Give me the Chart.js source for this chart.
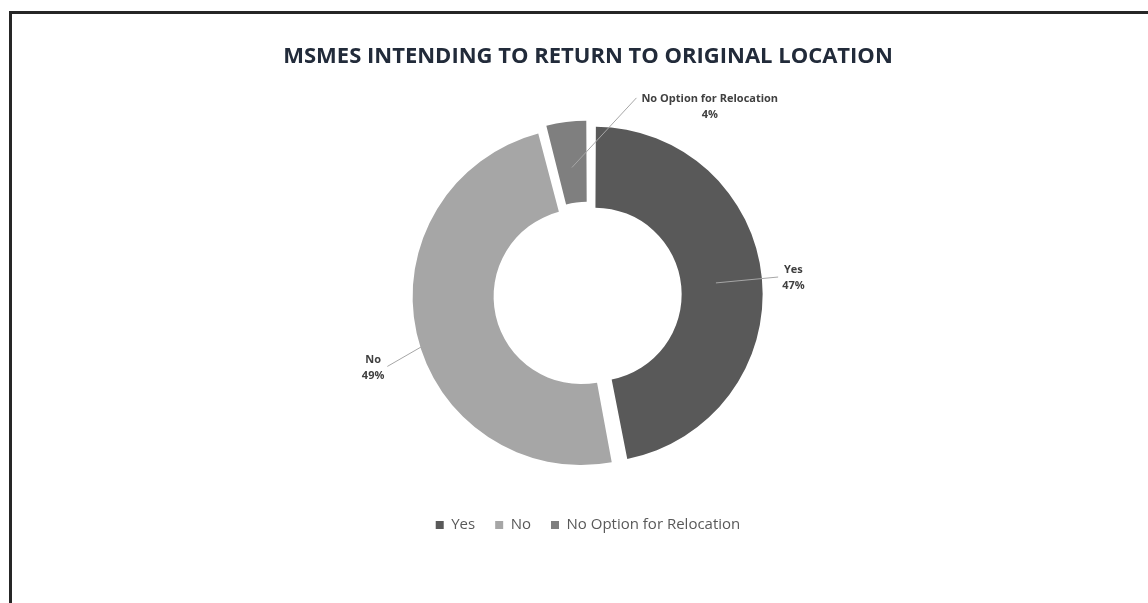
<!DOCTYPE html>
<html lang="en">
<head>
  <meta charset="UTF-8">
  <title>MSMEs Intending to Return to Original Location</title>
  <script src="https://cdn.jsdelivr.net/npm/chart.js"></script>
  <style>
    body {
      margin: 0;
      background: #fff;
      overflow: hidden;
    }
    .wrap {
      position: relative;
      width: 1148px;
      height: 603px;
    }
    .frame {
      position: absolute;
      left: 9px;
      top: 11px;
      width: 1160px;
      height: 620px;
      border: 3px solid #262626;
      box-sizing: border-box;
    }
    canvas {
      position: absolute;
      left: 0;
      top: 0;
    }
  </style>
</head>
<body>
  <div class="wrap">
    <div class="frame"></div>
    <canvas id="chart" width="1148" height="603"></canvas>
  </div>

  <script>
    // Chart data
    const categories = ['Yes', 'No', 'No Option for Relocation'];
    const shares = [47, 49, 4];
    const sliceColors = ['#595959', '#a6a6a6', '#7f7f7f'];

    // Callout leader lines: angle shift (deg), distance past the rim, label side, gap, vertical nudge
    const calloutShift = [0, -7, 21];
    const calloutReach = [29, 51, 41];
    const calloutSide = ['right', 'left', 'right'];
    const calloutGap = [4, 3, 5];
    const calloutNudge = [1, 1, 9];

    const SLICE_OFFSET = 28;

    // Draws the data labels with leader lines, like the Excel callouts
    const calloutPlugin = {
      id: 'callouts',
      afterDatasetsDraw(chart) {
        const ctx = chart.ctx;
        const meta = chart.getDatasetMeta(0);
        ctx.save();
        meta.data.forEach((arc, i) => {
          const p = arc.getProps(['x', 'y', 'startAngle', 'endAngle', 'innerRadius', 'outerRadius']);
          const mid = (p.startAngle + p.endAngle) / 2;
          const push = SLICE_OFFSET / 4;
          const rMid = (p.innerRadius + p.outerRadius) / 2 + push;
          const x0 = p.x + Math.cos(mid) * rMid;
          const y0 = p.y + Math.sin(mid) * rMid;
          const a1 = mid + calloutShift[i] * Math.PI / 180;
          const r1 = p.outerRadius + calloutReach[i];
          const x1 = p.x + Math.cos(a1) * r1;
          const y1 = p.y + Math.sin(a1) * r1;

          ctx.beginPath();
          ctx.moveTo(x0, y0);
          ctx.lineTo(x1, y1);
          ctx.strokeStyle = '#a6a6a6';
          ctx.lineWidth = 1;
          ctx.stroke();

          const lines = [categories[i], shares[i] + '%'];
          ctx.font = 'bold 11px "Open Sans"';
          ctx.fillStyle = '#404040';
          ctx.textAlign = 'center';
          ctx.textBaseline = 'middle';
          const w = Math.max(...lines.map(t => ctx.measureText(t).width));
          const cx = calloutSide[i] === 'right' ? x1 + calloutGap[i] + w / 2 : x1 - calloutGap[i] - w / 2;
          const cy = y1 + calloutNudge[i];
          ctx.fillText(lines[0], cx, cy - 8);
          ctx.fillText(lines[1], cx, cy + 8);
        });
        ctx.restore();
      }
    };

    const ctx = document.getElementById('chart').getContext('2d');
    new Chart(ctx, {
      type: 'doughnut',
      data: {
        labels: categories,
        datasets: [{
          data: shares,
          backgroundColor: sliceColors,
          borderWidth: 0,
          offset: SLICE_OFFSET,
          clip: false
        }]
      },
      options: {
        responsive: false,
        animation: false,
        cutout: '50%',
        layout: {
          padding: { left: 28, right: 0, top: 0, bottom: 60.5 }
        },
        plugins: {
          tooltip: { enabled: false },
          title: {
            display: true,
            text: 'MSMES INTENDING TO RETURN TO ORIGINAL LOCATION',
            color: '#222b3a',
            font: { family: '"Open Sans"', size: 22, weight: 'bold' },
            padding: { top: 43.8, bottom: 48.8 }
          },
          legend: {
            display: true,
            position: 'bottom',
            title: {
              display: true,
              text: ' ',
              font: { size: 12 },
              padding: { top: 12.1, bottom: 0 }
            },
            labels: {
              boxWidth: 8,
              boxHeight: 8,
              padding: 20,
              color: '#595959',
              font: { family: '"Open Sans"', size: 15 }
            }
          }
        }
      },
      plugins: [calloutPlugin]
    });
  </script>
</body>
</html>
